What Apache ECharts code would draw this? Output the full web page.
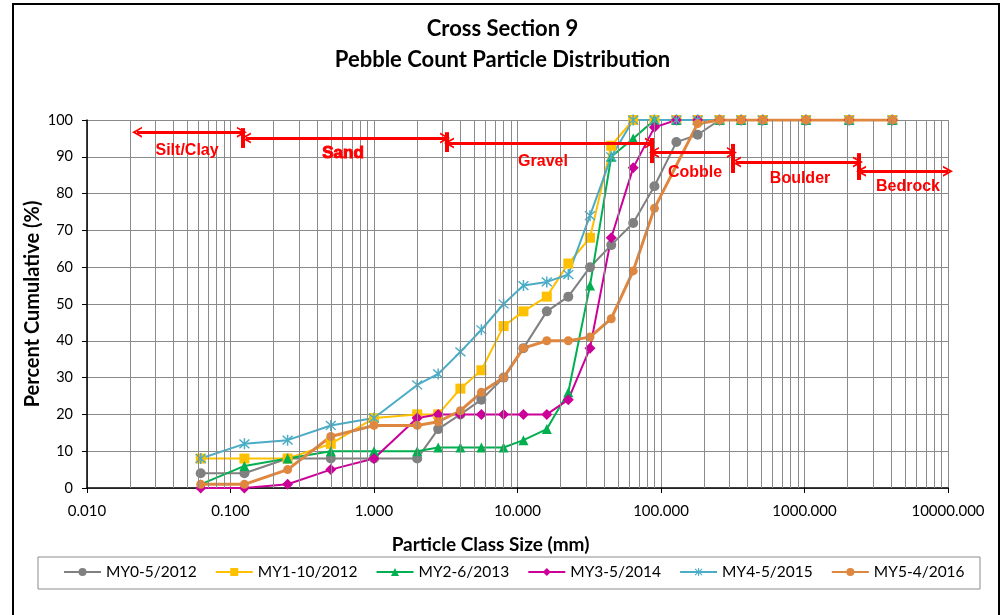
<!DOCTYPE html>
<html>
<head>
<meta charset="utf-8">
<script src="https://cdn.jsdelivr.net/npm/echarts@6/dist/echarts.min.js"></script>
<style>
  html, body { margin: 0; padding: 0; background: #ffffff; }
  #chart { width: 1005px; height: 615px; }
</style>
</head>
<body>
<div id="chart"></div>
<script>
// Sieve / particle class sizes (mm)
const sizes = [0.062, 0.125, 0.25, 0.5, 1, 2, 2.8, 4, 5.6, 8, 11, 16, 22.6, 32, 45, 64, 90, 128, 180, 256, 362, 512, 1024, 2048, 4096];

// Cumulative percent finer, per monitoring year (null = no reading)
const my0 = [4, 4, 8, 8, 8, 8, 16, 20, 24, 30, 38, 48, 52, 60, 66, 72, 82, 94, 96, 100, 100, 100, 100, 100, 100];
const my1 = [8, 8, 8, 12, 19, 20, 20, 27, 32, 44, 48, 52, 61, 68, 93, 100, 100, 100, 100, 100, 100, 100, 100, 100, 100];
const my2 = [1, 6, 8, 10, 10, 10, 11, 11, 11, 11, 13, 16, 26, 55, 90, 95, 100, 100, 100, 100, 100, 100, 100, 100, 100];
const my3 = [0, 0, 1, 5, 8, 19, 20, 20, 20, 20, 20, 20, 24, 38, 68, 87, 98, 100, 100, 100, 100, 100, 100, 100, 100];
const my4 = [8, 12, 13, 17, 19, 28, 31, 37, 43, 50, 55, 56, 58, 74, 90, 100, 100, 100, 100, 100, 100, 100, 100, 100, 100];
const my5 = [1, 1, 5, 14, 17, 17, 18, 21, 26, 30, 38, 40, 40, 41, 46, 59, 76, null, 99, 100, 100, 100, 100, 100, 100];

const seriesNames = ['MY0-5/2012', 'MY1-10/2012', 'MY2-6/2013', 'MY3-5/2014', 'MY4-5/2015', 'MY5-4/2016'];
const seriesValues = [my0, my1, my2, my3, my4, my5];

// Size-class ranges: name, from (mm), to (mm), arrow level (%)
const classNames = ['Silt/Clay', 'Sand', 'Gravel', 'Cobble', 'Boulder', 'Bedrock'];
const classFrom  = [0.0223, 0.128, 3.33, 89.3, 333, 2477];
const classTo    = [0.120, 3.13, 83.8, 312, 2360, 10000];
const classLevel = [96.7, 95.1, 93.75, 91.2, 88.6, 86.1];
// Boundary tick marks: size (mm), bottom %, top %
const boundSize = [0.122, 3.23, 86.5, 318, 2399];
const boundLow  = [92.4, 91.3, 88.3, 85.6, 83.7];
const boundHigh = [97.8, 96.7, 95.1, 93.5, 91.0];
// Class label anchor points (mm, %)
const labelSize  = [0.0498, 0.608, 15.06, 172.6, 931, 5260];
const labelLevel = [91.6, 91.0, 88.6, 85.6, 84.2, 81.8];

const calibri = 'Lato, "Open Sans", sans-serif';
const arial = '"Liberation Sans", Arial, sans-serif';
const red = '#ff0000';
const gridGray = '#8a8a8a';

// Open chevron used as arrow head, pointing up before rotation
const chevron = 'path://M0,10 L5,0 L10,10 L8.2,10 L5,3.6 L1.8,10 Z';
// Asterisk marker: vertical stroke plus two diagonals
const asterisk = 'path://M4.4,0 L5.6,0 L5.6,10 L4.4,10 Z M1.42,0.58 L9.42,8.58 L8.58,9.42 L0.58,1.42 Z M8.58,0.58 L9.42,1.42 L1.42,9.42 L0.58,8.58 Z';

const looks = [
  { color: '#808080', symbol: 'circle',   size: 10, width: 2 },
  { color: '#ffc000', symbol: 'rect',     size: 10, width: 2 },
  { color: '#00b050', symbol: 'triangle', size: 10, width: 2 },
  { color: '#cc0099', symbol: 'diamond',  size: 11, width: 2 },
  { color: '#4bacc6', symbol: asterisk,   size: 11, width: 2 },
  { color: '#e0873f', symbol: 'circle',   size: 9,  width: 3 }
];

// Logarithmic minor grid lines (2..9 within each decade)
const minorLines = [];
for (let e = -2; e <= 3; e++) {
  for (let m = 2; m <= 9; m++) minorLines.push({ xAxis: +(m * Math.pow(10, e)).toPrecision(6) });
}

const dataSeries = seriesNames.map((name, k) => ({
  name: name,
  type: 'line',
  z: 3,
  data: sizes.map((s, i) => seriesValues[k][i] == null ? null : [s, seriesValues[k][i]]).filter(Boolean),
  symbol: looks[k].symbol,
  symbolSize: looks[k].size,
  showAllSymbol: true,
  itemStyle: { color: looks[k].color },
  lineStyle: { color: looks[k].color, width: looks[k].width },
  emphasis: { disabled: true }
}));

const gridSeries = {
  name: 'minor-grid',
  type: 'line',
  z: 1,
  data: [],
  silent: true,
  markLine: {
    silent: true,
    symbol: ['none', 'none'],
    label: { show: false },
    lineStyle: { color: gridGray, width: 1, type: 'solid' },
    emphasis: { disabled: true },
    data: minorLines
  }
};

const arrowSeries = {
  name: 'size-classes',
  type: 'line',
  z: 2,
  data: [],
  silent: true,
  markLine: {
    silent: true,
    symbol: [chevron, chevron],
    symbolSize: [11, 10],
    label: { show: false },
    lineStyle: { color: red, width: 3, type: 'solid' },
    emphasis: { disabled: true },
    data: classNames.map((n, i) => [
      { coord: [classFrom[i], classLevel[i]] },
      { coord: [classTo[i], classLevel[i]] }
    ])
  },
  markPoint: {
    silent: true,
    symbol: 'circle',
    symbolSize: 0,
    label: {
      show: true, position: 'inside', formatter: '{b}',
      color: red, fontFamily: arial, fontWeight: 'bold', fontSize: 16
    },
    data: classNames.map((n, i) => {
      const d = { name: n, coord: [labelSize[i], labelLevel[i]] };
      if (n === 'Sand') d.label = { fontSize: 17, textBorderColor: red, textBorderWidth: 1 };
      return d;
    })
  }
};

const boundSeries = {
  name: 'class-bounds',
  type: 'line',
  z: 2,
  data: [],
  silent: true,
  markLine: {
    silent: true,
    symbol: ['none', 'none'],
    label: { show: false },
    lineStyle: { color: red, width: 4, type: 'solid' },
    emphasis: { disabled: true },
    data: boundSize.map((s, i) => [
      { coord: [s, boundLow[i]] },
      { coord: [s, boundHigh[i]] }
    ])
  }
};

const chart = echarts.init(document.getElementById('chart'), null, { renderer: 'canvas' });
chart.setOption({
  animation: false,
  backgroundColor: '#ffffff',
  title: {
    text: 'Cross Section 9\nPebble Count Particle Distribution',
    left: 'center',
    top: 8,
    textStyle: { fontFamily: calibri, fontWeight: 'bold', fontSize: 22, color: '#000', lineHeight: 31 }
  },
  graphic: [
    { type: 'rect', shape: { x: 13, y: 4, width: 986, height: 640 }, style: { fill: 'none', stroke: '#000', lineWidth: 2 }, silent: true },
    { type: 'rect', shape: { x: 38, y: 557, width: 942, height: 32 }, style: { fill: 'none', stroke: '#8c8c8c', lineWidth: 1 }, silent: true }
  ],
  legend: {
    data: seriesNames,
    left: 63,
    top: 564,
    padding: 0,
    itemWidth: 37,
    itemHeight: 10,
    itemGap: 18,
    selectedMode: false,
    textStyle: { fontFamily: calibri, fontSize: 15.5, color: '#000' }
  },
  grid: { left: 87, right: 57, top: 120, bottom: 127, containLabel: false },
  xAxis: {
    type: 'log',
    logBase: 10,
    min: 0.01,
    max: 10000,
    name: 'Particle Class Size (mm)',
    nameLocation: 'middle',
    nameGap: 47,
    nameMoveOverlap: false,
    nameTextStyle: { fontFamily: calibri, fontWeight: 'bold', fontSize: 19, color: '#000', padding: [0, 54, 0, 0] },
    axisLine: { show: true, onZero: false, lineStyle: { color: '#000', width: 1.5 } },
    axisTick: { show: true, length: 5, lineStyle: { color: '#000' } },
    axisLabel: {
      margin: 16,
      fontFamily: calibri, fontSize: 15, color: '#000',
      formatter: v => Number(v).toFixed(3)
    },
    splitLine: { show: true, lineStyle: { color: gridGray, width: 1 } }
  },
  yAxis: {
    type: 'value',
    min: 0,
    max: 100,
    interval: 10,
    name: 'Percent Cumulative (%)',
    nameLocation: 'middle',
    nameGap: 44,
    nameMoveOverlap: false,
    nameTextStyle: { fontFamily: calibri, fontWeight: 'bold', fontSize: 20, color: '#000' },
    axisLine: { show: true, onZero: false, lineStyle: { color: '#000', width: 1.5 } },
    axisTick: { show: true, length: 5, lineStyle: { color: '#000' } },
    axisLabel: { margin: 14, fontFamily: calibri, fontSize: 14.5, color: '#000' },
    splitLine: { show: true, lineStyle: { color: gridGray, width: 1 } }
  },
  series: [gridSeries, boundSeries, arrowSeries].concat(dataSeries)
});
</script>
</body>
</html>
